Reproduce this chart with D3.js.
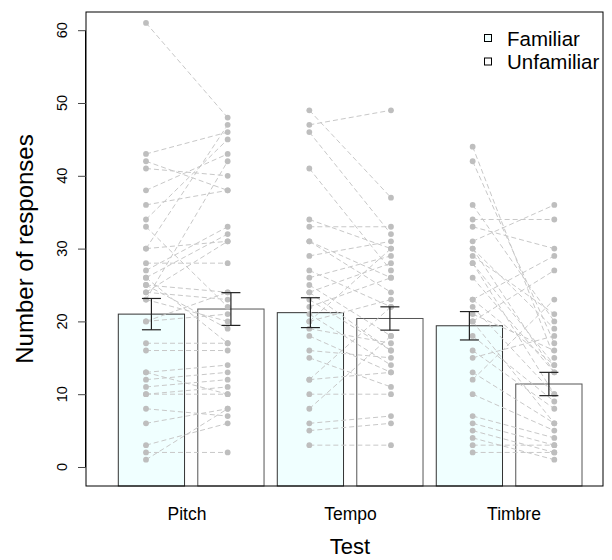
<!DOCTYPE html>
<html>
<head>
<meta charset="utf-8">
<script src="https://cdn.jsdelivr.net/npm/d3@7"></script>
<style>
  html, body { margin: 0; padding: 0; background: #fff; }
  svg { display: block; font-family: "Liberation Sans", Arial, Helvetica, sans-serif; }
</style>
</head>
<body>
<svg id="chart" width="612" height="560"></svg>
<script>
// ---------------- data ----------------
const tests = ["Pitch", "Tempo", "Timbre"];
const conditions = ["Familiar", "Unfamiliar"];
const yTicks = [0, 10, 20, 30, 40, 50, 60];

// bar means and standard errors (order: Pitch F, Pitch U, Tempo F, Tempo U, Timbre F, Timbre U)
const barMeans = [21.0, 21.7, 21.2, 20.4, 19.4, 11.4];
const barSE    = [2.15, 2.25, 2.05, 1.6, 1.95, 1.6];

// paired individual responses (same index = same participant)
const pitchFamiliar   = [61,43,42,41,38,36,34,33,30,30,28,27,26,25,24,23,23,20,17,16,13,12,11,10,10,8,6,3,2,1,25,24,13,26,20];
const pitchUnfamiliar = [48,46,38,40,43,38,45,22,31,47,28,33,32,24,31,42,20,21,17,16,14,13,12,11,10,7,8,6,2,8,19,23,10,17,24];

const tempoFamiliar   = [49,47,46,41,34,33,31,29,27,26,25,24,23,22,21,20,19,18,16,15,12,10,8,6,5,3,31,24,12,20];
const tempoUnfamiliar = [37,49,32,27,30,33,24,31,22,29,18,28,16,26,14,23,17,13,15,11,22,10,18,7,6,3,26,16,13,30];

const timbreFamiliar   = [44,42,36,34,33,31,30,29,28,26,23,22,21,20,18,16,15,13,12,10,7,6,5,4,3,2,30,23,28,20];
const timbreUnfamiliar = [15,17,20,34,30,36,19,21,14,13,29,10,16,27,9,8,18,6,23,5,4,3,2,1,3,2,13,14,10,6];

const pairedData = [
  [pitchFamiliar, pitchUnfamiliar],
  [tempoFamiliar, tempoUnfamiliar],
  [timbreFamiliar, timbreUnfamiliar]
];

// ---------------- layout ----------------
const svg = d3.select("#chart");
const plot = { left: 86, right: 603, top: 12, bottom: 486 };

const y = d3.scaleLinear().domain([-2.61, 62.5]).range([plot.bottom, plot.top]);

// bar positions (6 bars, width 1, space 0.2 in bar units)
const barUnits = d3.scaleLinear().domain([0.2, 7.2]).range([118.3, 582]);
const barLeft = i => barUnits(0.2 + 1.2 * i);
const barRight = i => barUnits(1.2 + 1.2 * i);
const barCenter = i => (barLeft(i) + barRight(i)) / 2;

// positions of individual points (index 0..5)
const pointX = d3.scaleLinear().domain([0, 5]).range([146, 554.3]);
// group label positions
const labelX = d3.scaleLinear().domain([0, 2]).range([187, 514]);

const fills = ["#F0FFFF", "#FFFFFF"];

// ---------------- bars ----------------
svg.append("g").selectAll("rect")
  .data(barMeans)
  .join("rect")
  .attr("x", (d, i) => barLeft(i))
  .attr("width", (d, i) => barRight(i) - barLeft(i))
  .attr("y", d => y(d))
  .attr("height", d => plot.bottom - y(d))
  .attr("fill", (d, i) => fills[i % 2])
  .attr("stroke", (d, i) => i % 2 === 0 ? "#333" : "#555")
  .attr("stroke-width", 1);

// ---------------- paired lines ----------------
const lineG = svg.append("g");
pairedData.forEach((pair, t) => {
  const [fam, unf] = pair;
  const x1 = pointX(2 * t), x2 = pointX(2 * t + 1);
  lineG.append("g").selectAll("line")
    .data(d3.range(fam.length))
    .join("line")
    .attr("x1", x1).attr("x2", x2)
    .attr("y1", i => y(fam[i]))
    .attr("y2", i => y(unf[i]))
    .attr("stroke", "#C8C8C8")
    .attr("stroke-width", 1)
    .attr("stroke-dasharray", "5,3");
});

// ---------------- points ----------------
const ptG = svg.append("g");
pairedData.forEach((pair, t) => {
  pair.forEach((vals, c) => {
    ptG.append("g").selectAll("circle")
      .data(vals)
      .join("circle")
      .attr("cx", pointX(2 * t + c))
      .attr("cy", d => y(d))
      .attr("r", 2.9)
      .attr("fill", "#BEBEBE");
  });
});

// ---------------- error bars ----------------
const errG = svg.append("g").attr("stroke", "#222").attr("stroke-width", 1.2);
barMeans.forEach((m, i) => {
  const cx = barCenter(i);
  const lo = y(m - barSE[i]), hi = y(m + barSE[i]);
  errG.append("line").attr("x1", cx).attr("x2", cx).attr("y1", lo).attr("y2", hi);
  errG.append("line").attr("x1", cx - 9.5).attr("x2", cx + 9.5).attr("y1", lo).attr("y2", lo);
  errG.append("line").attr("x1", cx - 9.5).attr("x2", cx + 9.5).attr("y1", hi).attr("y2", hi);
});

// ---------------- box ----------------
svg.append("rect")
  .attr("x", plot.left).attr("y", plot.top)
  .attr("width", plot.right - plot.left).attr("height", plot.bottom - plot.top)
  .attr("fill", "none").attr("stroke", "#000").attr("stroke-width", 1);

// ---------------- y axis ----------------
const yAxis = d3.axisLeft(y).tickValues(yTicks).tickSize(8).tickFormat("");
const yAxisG = svg.append("g").attr("transform", `translate(${plot.left},0)`).call(yAxis);
yAxisG.select(".domain").attr("stroke", "#000")
  .attr("d", `M-0.5,${y(60)}V${y(0)}`);
yAxisG.selectAll(".tick line").attr("stroke", "#444");

svg.append("g").selectAll("text")
  .data(yTicks)
  .join("text")
  .attr("transform", d => `translate(67,${y(d)}) rotate(-90)`)
  .attr("text-anchor", "middle")
  .attr("font-size", 14.5)
  .attr("fill", "#000")
  .text(d => d);

svg.append("text")
  .attr("transform", `translate(33,${(plot.top + plot.bottom) / 2}) rotate(-90)`)
  .attr("text-anchor", "middle")
  .attr("font-size", 24)
  .attr("fill", "#000")
  .text("Number of responses");

// ---------------- x labels ----------------
svg.append("g").selectAll("text")
  .data(tests)
  .join("text")
  .attr("x", (d, i) => labelX(i))
  .attr("y", 520)
  .attr("text-anchor", "middle")
  .attr("font-size", 17.5)
  .attr("fill", "#000")
  .text(d => d);

svg.append("text")
  .attr("x", 350).attr("y", 554)
  .attr("text-anchor", "middle")
  .attr("font-size", 22)
  .attr("fill", "#000")
  .text("Test");

// ---------------- legend ----------------
const legend = svg.append("g");
conditions.forEach((c, i) => {
  const cy = 38 + i * 23.5;
  legend.append("rect")
    .attr("x", 484.5).attr("y", cy - 3.5)
    .attr("width", 7).attr("height", 7)
    .attr("fill", fills[i]).attr("stroke", "#000").attr("stroke-width", 1);
  legend.append("text")
    .attr("x", 507).attr("y", cy + 7.5)
    .attr("font-size", 20.5)
    .attr("fill", "#000")
    .text(c);
});
</script>
</body>
</html>
